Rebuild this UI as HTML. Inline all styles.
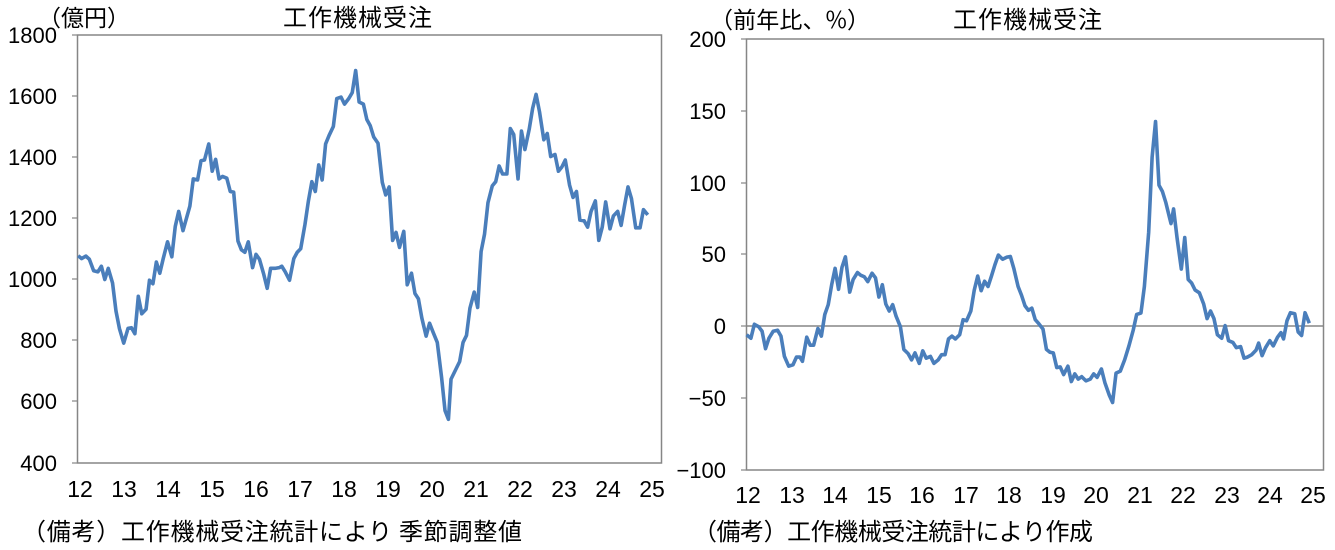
<!DOCTYPE html>
<html><head><meta charset="utf-8"><style>
html,body{margin:0;padding:0;background:#fff;}
svg text{font-family:"Liberation Sans Narrow","Liberation Sans","Noto Sans CJK JP",sans-serif;fill:#000;}
.j{font-family:"Noto Sans CJK JP",sans-serif;}
</style></head><body>
<svg width="1335" height="545" viewBox="0 0 1335 545" xmlns="http://www.w3.org/2000/svg">
<!-- LEFT CHART -->
<rect x="77.5" y="35" width="584" height="428" fill="none" stroke="#868686" stroke-width="1.5"/>
<g stroke="#868686" stroke-width="1.2">
<line x1="72" y1="35" x2="77" y2="35"/><line x1="72" y1="96" x2="77" y2="96"/><line x1="72" y1="157" x2="77" y2="157"/><line x1="72" y1="218" x2="77" y2="218"/><line x1="72" y1="279" x2="77" y2="279"/><line x1="72" y1="340" x2="77" y2="340"/><line x1="72" y1="401" x2="77" y2="401"/><line x1="72" y1="463" x2="77" y2="463"/>
</g>
<g font-size="22" text-anchor="end">
<text x="57" y="43">1800</text><text x="57" y="104">1600</text><text x="57" y="165">1400</text><text x="57" y="226">1200</text><text x="57" y="287">1000</text><text x="57" y="348">800</text><text x="57" y="409">600</text><text x="57" y="471">400</text>
</g>
<g font-size="23" text-anchor="middle">
<text x="80" y="497">12</text><text x="124" y="497">13</text><text x="168" y="497">14</text><text x="212" y="497">15</text><text x="256" y="497">16</text><text x="300" y="497">17</text><text x="344" y="497">18</text><text x="388" y="497">19</text><text x="432" y="497">20</text><text x="476" y="497">21</text><text x="520" y="497">22</text><text x="564" y="497">23</text><text x="608" y="497">24</text><text x="652" y="497">25</text>
</g>
<text class="j" x="38" y="26" font-size="23">（億円）</text>
<text class="j" x="283" y="26" font-size="24" textLength="149">工作機械受注</text>
<text class="j" x="22" y="540" font-size="24" textLength="500">（備考）工作機械受注統計により 季節調整値</text>
<g transform="scale(0.42955,0.34941)">
<polyline fill="none" stroke="#4a7ebb" stroke-width="3.6" vector-effect="non-scaling-stroke" stroke-linejoin="round" points="182,732 190,740 200,733 208,742 218,775 228,778 236,762 244,800 252,768 262,810 270,890 278,940 288,982 298,940 306,938 314,955 322,848 330,898 340,885 348,802 356,812 364,750 372,782 380,740 390,692 400,735 408,648 416,605 426,660 434,625 442,590 450,512 460,515 468,460 476,458 486,412 494,490 502,456 510,512 518,505 528,510 536,548 544,550 554,690 562,715 570,722 578,692 588,766 596,728 604,742 614,785 622,825 630,768 640,768 650,766 656,762 664,778 674,802 684,740 692,722 700,712 710,642 718,575 726,520 734,548 742,472 750,515 758,412 766,388 776,362 784,282 794,278 802,298 812,282 820,265 828,202 836,292 846,298 854,342 862,360 870,392 880,410 890,522 898,558 906,535 914,688 922,665 930,708 940,662 948,815 958,782 966,840 974,855 982,910 992,962 1000,925 1008,950 1018,980 1028,1080 1036,1175 1044,1200 1050,1085 1060,1060 1070,1035 1078,980 1086,960 1094,882 1104,836 1112,880 1120,720 1128,670 1136,580 1146,532 1154,520 1162,475 1170,498 1180,498 1188,368 1196,385 1206,512 1214,375 1222,428 1232,370 1240,310 1248,270 1256,320 1266,400 1274,382 1282,448 1292,442 1300,490 1308,478 1316,458 1326,530 1334,565 1342,548 1350,630 1360,632 1368,650 1376,605 1386,575 1394,688 1402,650 1410,578 1420,655 1428,618 1438,605 1446,645 1454,588 1462,535 1470,568 1480,652 1490,652 1498,600 1508,615"/>
</g>

<!-- RIGHT CHART -->
<rect x="746.5" y="39" width="577" height="431" fill="none" stroke="#868686" stroke-width="1.5"/>
<line x1="746" y1="326" x2="1324" y2="326" stroke="#868686" stroke-width="1.5"/>
<g stroke="#868686" stroke-width="1.2">
<line x1="741" y1="39" x2="746" y2="39"/><line x1="741" y1="111" x2="746" y2="111"/><line x1="741" y1="183" x2="746" y2="183"/><line x1="741" y1="254" x2="746" y2="254"/><line x1="741" y1="326" x2="746" y2="326"/><line x1="741" y1="398" x2="746" y2="398"/><line x1="741" y1="470" x2="746" y2="470"/>
</g>
<g font-size="22" text-anchor="end">
<text x="726" y="47">200</text><text x="726" y="119">150</text><text x="726" y="191">100</text><text x="726" y="262">50</text><text x="726" y="334">0</text><text x="726" y="406">−50</text><text x="726" y="478">−100</text>
</g>
<g font-size="23" text-anchor="middle">
<text x="748" y="503">12</text><text x="792" y="503">13</text><text x="835" y="503">14</text><text x="879" y="503">15</text><text x="922" y="503">16</text><text x="966" y="503">17</text><text x="1009" y="503">18</text><text x="1053" y="503">19</text><text x="1096" y="503">20</text><text x="1140" y="503">21</text><text x="1183" y="503">22</text><text x="1227" y="503">23</text><text x="1270" y="503">24</text><text x="1313" y="503">25</text>
</g>
<text class="j" x="710" y="28" font-size="23" textLength="160">（前年比、%）</text>
<text class="j" x="953" y="28" font-size="24" textLength="149">工作機械受注</text>
<text class="j" x="693" y="540" font-size="24" textLength="400">（備考）工作機械受注統計により作成</text>
<g transform="translate(665,0) scale(0.42955,0.34941)">
<polyline fill="none" stroke="#4a7ebb" stroke-width="3.6" vector-effect="non-scaling-stroke" stroke-linejoin="round" points="190,958 200,968 208,928 218,935 226,948 234,998 242,968 252,948 262,945 270,962 278,1020 288,1048 298,1044 306,1022 314,1022 320,1034 330,965 338,988 346,988 356,940 364,962 372,900 380,872 388,815 396,768 404,828 412,765 420,735 430,836 438,800 448,780 456,788 464,792 472,806 482,782 490,795 498,850 506,815 514,870 522,890 530,872 538,905 548,935 556,1000 566,1012 574,1030 582,1010 592,1040 600,1004 608,1025 618,1020 626,1040 636,1030 644,1015 652,1015 660,970 668,962 676,970 686,958 694,915 702,918 712,890 720,830 728,790 736,832 744,805 752,820 760,790 768,758 776,730 786,742 796,736 804,734 812,768 822,820 830,845 838,875 846,888 854,882 862,915 870,926 880,942 888,1000 896,1008 904,1010 912,1052 920,1050 928,1072 938,1048 946,1092 954,1070 962,1085 970,1078 980,1090 990,1085 998,1070 1006,1080 1016,1056 1024,1095 1034,1130 1042,1152 1050,1068 1060,1062 1070,1030 1080,990 1090,945 1098,900 1108,896 1116,820 1126,665 1134,450 1142,348 1150,530 1158,548 1166,580 1174,620 1178,640 1184,598 1192,680 1202,770 1210,680 1218,800 1226,810 1234,830 1244,838 1254,870 1262,912 1270,890 1278,912 1286,958 1296,968 1304,932 1312,975 1322,980 1330,995 1340,992 1348,1025 1356,1022 1366,1015 1376,1002 1382,982 1390,1018 1398,995 1408,975 1416,990 1426,965 1434,952 1440,970 1448,918 1456,895 1466,898 1474,950 1482,960 1490,895 1500,925"/>
</g>
</svg>
</body></html>
